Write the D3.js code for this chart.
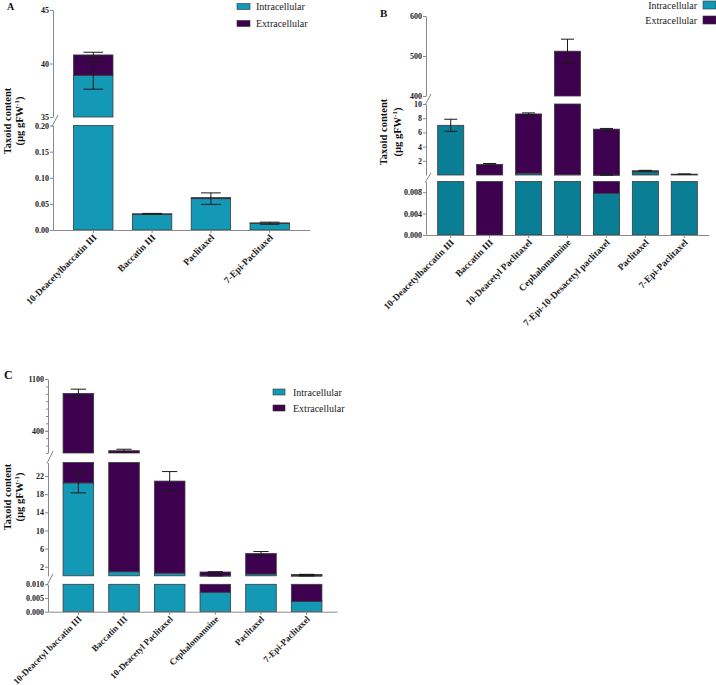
<!DOCTYPE html>
<html><head><meta charset="utf-8">
<script src="https://cdn.jsdelivr.net/npm/d3@7"></script>
<style>body{margin:0;background:#fff} svg{display:block} svg text{font-family:"Liberation Serif","Times New Roman",Tinos,serif}</style>
</head><body><svg id="c" width="716" height="685"></svg>
<script>
// ---------- DATA ----------
const catsA = ["10-Deacetylbaccatin III", "Baccatin III", "Paclitaxel", "7-Epi-Paclitaxel"];
const intraA = [38.9, 0.030, 0.060, 0.013];
const extraA = [1.9, 0.001, 0.002, 0.0005];
const intraErrA = [1.3, 0, 0.011, 0.002];
const totalErrA = [0.25, 0.0008, 0, 0];

const catsB = ["10-Deacetylbaccatin III", "Baccatin III", "10-Deacetyl Paclitaxel", "Cephalomannine", "7-Epi-10-Desacetyl paclitaxel", "Paclitaxel", "7-Epi-Paclitaxel"];
const intraB = [7.0, 0, 0.25, 0.05, 0.0078, 0.45, 0.08];
const extraB = [0, 1.5, 8.35, 512, 6.45, 0.15, 0.04];
const intraErrB = [0.85, 0, 0, 0, 0.0001, 0, 0];
const totalErrB = [0, 0.12, 0.15, 30, 0.1, 0.06, 0.02];

const catsC = ["10-Deacetyl baccatin III", "Baccatin III", "10-Deacetyl Paclitaxel", "Cephalomannine", "Paclitaxel", "7-Epi-Paclitaxel"];
const intraC = [20.5, 0.9, 0.6, 0.0071, 0.4, 0.0038];
const extraC = [885, 130, 20.3, 0.83, 4.5, 0.3];
const intraErrC = [2.2, 0, 0, 0.0001, 0, 0.0007];
const totalErrC = [57, 20, 2.1, 0.05, 0.45, 0.02];

const ticksA = [[35, 40, 45], [0, 0.05, 0.10, 0.15, 0.20]];
const ticksB = [[400, 500, 600], [2, 4, 6, 8, 10], [0, 0.004, 0.008]];
const ticksC = [[400, 1100], [2, 6, 10, 14, 18, 22], [0, 0.005, 0.010]];
const seriesNames = ["Intracellular", "Extracellular"];

// ---------- DRAW ----------
const svg = d3.select("#c");
const EX = "#3e014f";

function panel(o) {
  const g = svg.append("g");
  const x = d3.scaleBand().domain(o.cats).range([o.x0, o.x1]).paddingInner(0.33).paddingOuter(o.po);
  const segs = o.segs.map(s => Object.assign({}, s, {y: d3.scaleLinear().domain(s.domain).range(s.range)}));
  const data = o.cats.map((c, i) => ({c, a: o.intra[i], b: o.intra[i] + o.extra[i], ea: o.ie[i], eb: o.te[i]}));
  const bw = x.bandwidth();

  segs.forEach(s => {
    const [lo, hi] = s.domain;
    const cl = v => Math.max(lo, Math.min(hi, v));
    data.forEach(d => {
      [[0, d.a, o.cIn], [d.a, d.b, EX]].forEach(([v0, v1, col]) => {
        const a = cl(v0), b = cl(v1);
        if (b - a <= 0) return;
        g.append("rect").attr("x", x(d.c)).attr("width", bw)
          .attr("y", s.y(b)).attr("height", Math.max(0.4, s.y(a) - s.y(b)))
          .attr("fill", col).attr("stroke", "#3a3a3a").attr("stroke-width", 0.8);
      });
    });
    const ax = d3.axisLeft(s.y).tickValues(s.ticks).tickSize(3).tickSizeOuter(0).tickFormat(d3.format(s.fmt));
    const ag = g.append("g").attr("transform", `translate(${o.x0},0)`).call(ax);
    ag.attr("font-family", null);
    ag.select(".domain").attr("stroke", "#8a8a8a");
    ag.selectAll(".tick line").attr("stroke", "#8a8a8a");
    ag.selectAll(".tick text").attr("font-weight", "bold")
      .attr("font-size", 8).attr("fill", "#222").attr("x", -4);
    if (s.minor) {
      g.append("g").attr("transform", `translate(${o.x0},0)`)
        .call(d3.axisLeft(s.y).tickValues(s.minor).tickSize(2).tickSizeOuter(0).tickFormat(""))
        .call(a => { a.select(".domain").remove(); a.selectAll("line").attr("stroke", "#8a8a8a"); });
    }
  });

  // break marks
  for (let i = 0; i < segs.length - 1; i++) {
    const up = segs[i].range[0], low = segs[i + 1].range[1];
    g.append("line").attr("x1", o.x0 - 1).attr("y1", low + 1).attr("x2", o.x0 + 5).attr("y2", up - 2)
      .attr("stroke", "#666").attr("stroke-width", 0.8);
  }

  // error bars
  function errbar(d, v, e) {
    if (!(e > 0)) return;
    const s = segs.find(s => v >= s.domain[0] && v <= s.domain[1]);
    if (!s) return;
    const cl = t => Math.max(s.domain[0], Math.min(s.domain[1], t));
    const cx = x(d.c) + bw / 2, cw = bw * 0.25;
    const y1 = s.y(cl(v - e)), y2 = s.y(cl(v + e));
    const eg = g.append("g").attr("stroke", "#1a1a1a").attr("stroke-width", 1);
    eg.append("line").attr("x1", cx).attr("x2", cx).attr("y1", y1).attr("y2", y2);
    eg.append("line").attr("x1", cx - cw).attr("x2", cx + cw).attr("y1", y1).attr("y2", y1);
    eg.append("line").attr("x1", cx - cw).attr("x2", cx + cw).attr("y1", y2).attr("y2", y2);
  }
  data.forEach(d => { errbar(d, d.a, d.ea); errbar(d, d.b, d.eb); });

  // x axis
  const xg = g.append("g").attr("transform", `translate(0,${o.axisY})`)
    .call(d3.axisBottom(x).tickSize(3).tickSizeOuter(0));
  xg.attr("font-family", null);
  xg.select(".domain").attr("stroke", "#8a8a8a");
  xg.selectAll(".tick line").attr("stroke", "#8a8a8a");
  xg.selectAll(".tick text").attr("font-weight", "bold").attr("font-size", o.xfs)
    .attr("fill", "#222").attr("text-anchor", "end").attr("x", 0).attr("y", 0).attr("dy", "0.3em")
    .attr("transform", "translate(2,6) rotate(-45)");

  // y title
  const ty = g.append("g").attr("font-weight", "bold").attr("font-size", 10.5)
    .attr("fill", "#111").attr("text-anchor", "middle");
  ty.append("text").attr("transform", `translate(${o.tx1},${o.tcy}) rotate(-90)`).text("Taxoid content");
  const t2 = ty.append("text").attr("transform", `translate(${o.tx2},${o.tcy}) rotate(-90)`);
  t2.append("tspan").text("(µg gFW");
  t2.append("tspan").attr("font-size", 7).attr("dy", -4).text("-1");
  t2.append("tspan").attr("dy", 4).text(")");

  // panel label
  g.append("text").attr("x", o.lx).attr("y", o.ly).attr("font-weight", "bold")
    .attr("font-size", o.ls).attr("fill", "#111").text(o.label);

  // legend
  const lg = g.append("g").attr("font-size", 10).attr("fill", "#222");
  seriesNames.forEach((n, i) => {
    const cy = o.leg.y + i * o.leg.dy;
    lg.append("rect").attr("x", o.leg.sx).attr("y", cy - o.leg.sh / 2).attr("width", o.leg.sw).attr("height", o.leg.sh)
      .attr("fill", i === 0 ? "#1399b6" : EX).attr("stroke", "#333").attr("stroke-width", 0.6);
    lg.append("text").attr("x", o.leg.tx).attr("y", cy).attr("dy", "0.35em")
      .attr("text-anchor", o.leg.anchor).text(n);
  });
}

panel({
  label: "A", lx: 7, ly: 10, ls: 10, xfs: 9.5,
  cats: catsA, intra: intraA, extra: extraA, ie: intraErrA, te: totalErrA,
  x0: 53, x1: 310, po: 0.35, axisY: 230, cIn: "#1399b6",
  segs: [
    {domain: [35, 45], range: [117, 10], ticks: ticksA[0], fmt: "d"},
    {domain: [0, 0.2], range: [230, 125.5], ticks: ticksA[1], fmt: ".2f"}
  ],
  tx1: 11, tx2: 23, tcy: 121,
  leg: {sx: 237, sw: 13, sh: 6, y: 6.5, dy: 17, tx: 256, anchor: "start"}
});

panel({
  label: "B", lx: 380, ly: 17, ls: 11, xfs: 9.5,
  cats: catsB, intra: intraB, extra: extraB, ie: intraErrB, te: totalErrB,
  x0: 426, x1: 709, po: 0.30, axisY: 235, cIn: "#0a7e95",
  segs: [
    {domain: [400, 600], range: [96, 16], ticks: ticksB[0], fmt: "d"},
    {domain: [0, 10], range: [175, 104], ticks: ticksB[1], fmt: "d"},
    {domain: [0, 0.010], range: [235, 181.5], ticks: ticksB[2], fmt: ".3f"}
  ],
  tx1: 387, tx2: 401, tcy: 132,
  leg: {sx: 703, sw: 13, sh: 8, y: 5, dy: 15, tx: 697, anchor: "end"}
});

panel({
  label: "C", lx: 4, ly: 379, ls: 12, xfs: 9,
  cats: catsC, intra: intraC, extra: extraC, ie: intraErrC, te: totalErrC,
  x0: 48, x1: 337, po: 0.33, axisY: 611.7, cIn: "#1399b6",
  segs: [
    {domain: [100, 1100], range: [453, 379], ticks: ticksC[0], fmt: "d", minor: d3.range(100, 1101, 100)},
    {domain: [0, 25], range: [575.8, 462.5], ticks: ticksC[1], fmt: "d"},
    {domain: [0, 0.010], range: [611.7, 584.3], ticks: ticksC[2], fmt: ".3f"}
  ],
  tx1: 10.5, tx2: 23, tcy: 497,
  leg: {sx: 273, sw: 12, sh: 6, y: 392, dy: 16, tx: 293, anchor: "start"}
});
</script></body></html>
